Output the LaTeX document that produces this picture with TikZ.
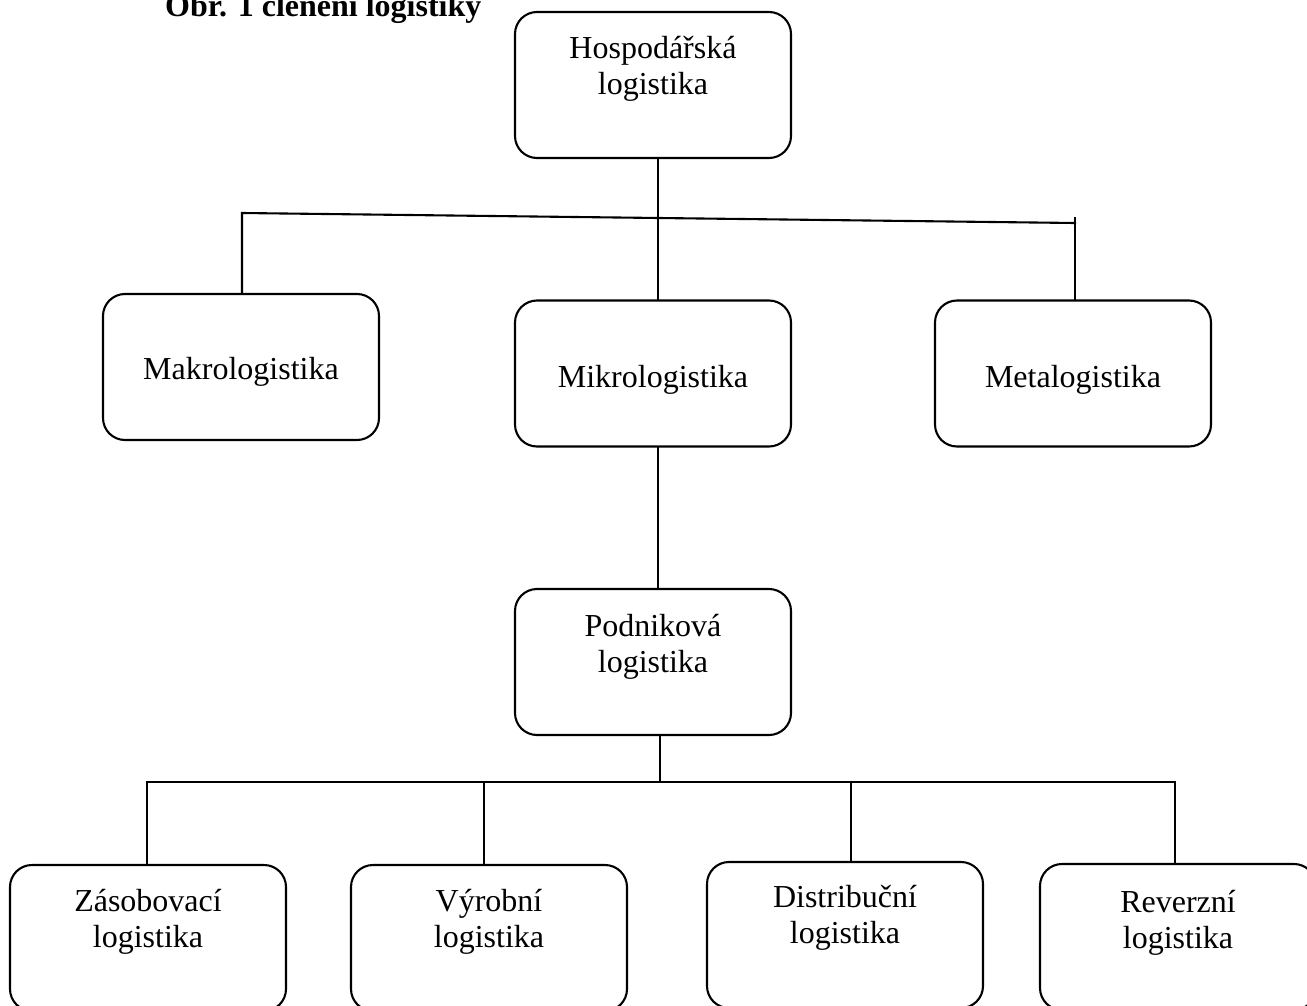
\documentclass[tikz,border=0pt]{standalone}
\usepackage{fontspec}
\setmainfont{Liberation Serif}
\begin{document}
\begin{tikzpicture}[x=1pt,y=-1pt,
  box/.style={draw=black,line width=2.1pt,rounded corners=22pt,minimum width=276pt,minimum height=146pt,inner sep=0pt},
  lbl/.style={anchor=base,align=center,inner sep=0pt,font=\fontsize{32}{36}\selectfont},
  conn/.style={line width=2.1pt,line cap=rect}]
\useasboundingbox (0,0) rectangle (1307,1006);
% title
\node[anchor=base west,inner sep=0pt,font=\fontsize{32}{36}\selectfont\bfseries] (title) at (165,17) {Obr. 1 členění logistiky};
% boxes
\node[box] (hosp) at (653,85) {};
\node[box] (makro) at (241,367) {};
\node[box] (mikro) at (653,373.5) {};
\node[box] (meta) at (1073,373.5) {};
\node[box] (podnik) at (653,662) {};
\node[box] (zas) at (148,938) {};
\node[box] (vyr) at (489,938) {};
\node[box] (dis) at (845,935) {};
\node[box] (rev) at (1178,937) {};
% texts (base anchor = baseline of the last line)
\node[lbl] (hospt) at (653,95) {Hospodářská\\logistika};
\node[lbl] (makrot) at (241,379) {Makrologistika};
\node[lbl] (mikrot) at (653,387) {Mikrologistika};
\node[lbl] (metat) at (1073,387) {Metalogistika};
\node[lbl] (podnikt) at (653,672) {Podniková\\logistika};
\node[lbl] (zast) at (148,947) {Zásobovací\\logistika};
\node[lbl] (vyrt) at (489,947) {Výrobní\\logistika};
\node[lbl] (dist) at (845,943) {Distribuční\\logistika};
\node[lbl] (revt) at (1178,948) {Reverzní\\logistika};
% connector points
\coordinate (tl) at (242,213);
\coordinate (tr) at (1075,223);
\coordinate (trs) at (1075,218);
\coordinate (bus) at (660,782);
\coordinate (b1) at (147,782);
\coordinate (b2) at (484,782);
\coordinate (b3) at (851,782);
\coordinate (b4) at (1175,782);
% connectors
\draw[conn] (hosp.south -| 658,0) -- (mikro.north -| 658,0);
\draw[conn] (tl |- makro.north) -- (tl) -- (tr);
\draw[conn] (trs) -- (trs |- meta.north);
\draw[conn] (mikro.south -| 658,0) -- (podnik.north -| 658,0);
\draw[conn] (podnik.south -| bus) -- (bus);
\draw[conn] (b1) -- (b4);
\draw[conn] (b1) -- (b1 |- zas.north);
\draw[conn] (b2) -- (b2 |- vyr.north);
\draw[conn] (b3) -- (b3 |- dis.north);
\draw[conn] (b4) -- (b4 |- rev.north);
\end{tikzpicture}
\end{document}
